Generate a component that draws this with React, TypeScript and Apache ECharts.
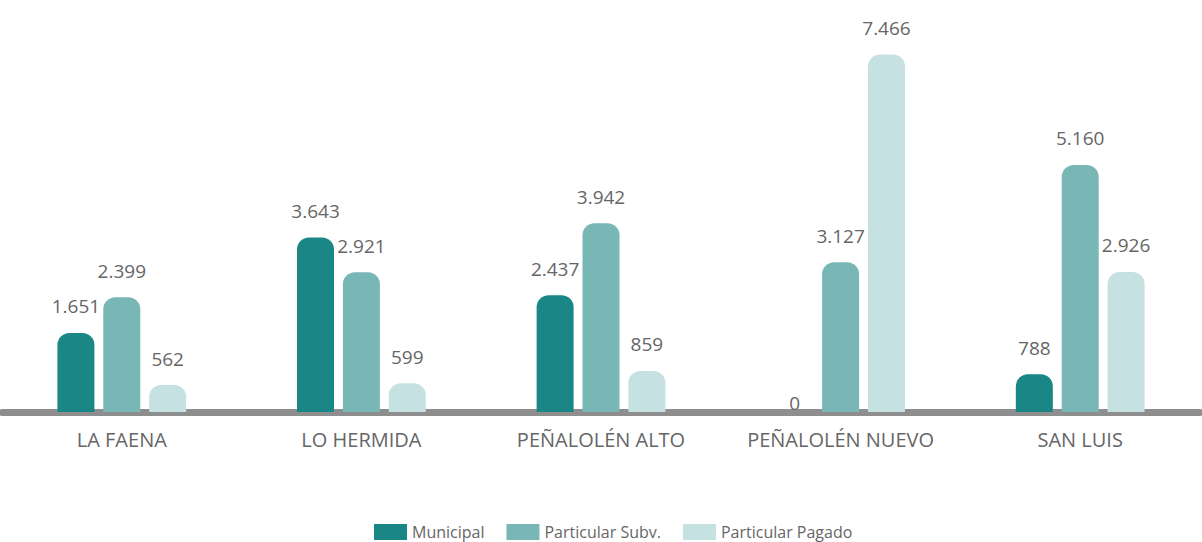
import React, { useEffect, useRef } from "react";
import * as echarts from "echarts";

const categories = ["LA FAENA", "LO HERMIDA", "PEÑALOLÉN ALTO", "PEÑALOLÉN NUEVO", "SAN LUIS"];
const municipal = [1651, 3643, 2437, 0, 788];
const particularSubv = [2399, 2921, 3942, 3127, 5160];
const particularPagado = [562, 599, 859, 7466, 2926];
const seriesNames = ["Municipal", "Particular Subv.", "Particular Pagado"];
const colors = ["#1b8686", "#79b6b6", "#c6e1e2"];

const fmt = (v: number) => v.toLocaleString("de-DE");

export default function App() {
  const ref = useRef<HTMLDivElement>(null);
  useEffect(() => {
    if (!ref.current) return;
    const chart = echarts.init(ref.current, null, { renderer: "svg" });
    const font = "'Open Sans', 'Segoe UI', sans-serif";
    const mk = (name: string, data: number[], color: string) => ({
      name,
      type: "bar",
      barWidth: 37,
      barGap: "24%",
      itemStyle: { color, borderRadius: [12, 12, 0, 0] },
      label: {
        show: true,
        position: "top",
        distance: 17,
        color: "#666",
        fontSize: 19,
        fontFamily: font,
        formatter: (p: any) => fmt(p.value),
      },
      data: data.map((v) => (v === 0 ? { value: v, label: { distance: 0 } } : v)),
    });
    chart.setOption({
      animation: false,
      color: colors,
      grid: { left: 2, right: 2, top: 29, bottom: 130, containLabel: false },
      legend: {
        left: 369,
        top: 519,
        itemWidth: 33,
        itemHeight: 16,
        itemGap: 22,
        icon: "rect",
        textStyle: { color: "#666", fontSize: 16, fontFamily: font },
        data: seriesNames,
      },
      xAxis: {
        type: "category",
        data: categories,
        offset: 4,
        axisLine: { lineStyle: { color: "#8e8e8e", width: 7 } },
        axisTick: { show: false },
        axisLabel: {
          color: "#666",
          fontSize: 20,
          fontFamily: font,
          margin: 13,
          interval: 0,
          hideOverlap: false,
        },
      },
      yAxis: {
        type: "value",
        min: 0,
        max: 8000,
        show: false,
        splitLine: { show: false },
      },
      series: [
        mk(seriesNames[0], municipal, colors[0]),
        mk(seriesNames[1], particularSubv, colors[1]),
        mk(seriesNames[2], particularPagado, colors[2]),
      ],
    });
    return () => chart.dispose();
  }, []);
  return (
    <div
      ref={ref}
      style={{ position: "fixed", left: 0, top: 0, width: 1202, height: 542, background: "#fff" }}
    />
  );
}
